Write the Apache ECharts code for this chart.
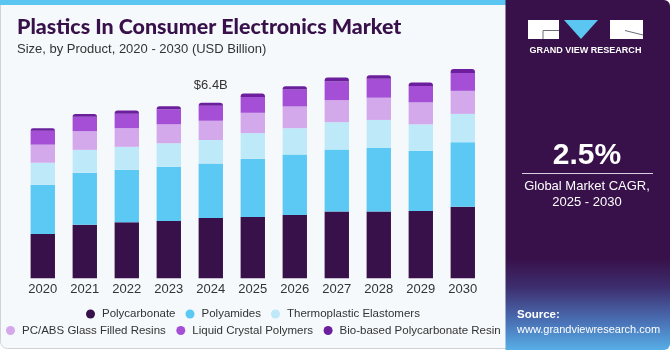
<!DOCTYPE html>
<html>
<head>
<meta charset="utf-8">
<script src="https://cdn.jsdelivr.net/npm/echarts@6/dist/echarts.min.js"></script>
<style>
  html, body { margin: 0; padding: 0; background: #ffffff; }
  #chart { width: 670px; height: 350px; }
</style>
</head>
<body>
<div id="chart"></div>
<script>
// values in USD billion
const years = ['2020', '2021', '2022', '2023', '2024', '2025', '2026', '2027', '2028', '2029', '2030'];
const polycarbonate = [1.61, 1.95, 2.04, 2.09, 2.20, 2.23, 2.31, 2.43, 2.43, 2.45, 2.61];
const polyamides = [1.80, 1.90, 1.91, 1.97, 1.98, 2.12, 2.20, 2.26, 2.32, 2.20, 2.35];
const thermoElastomers = [0.80, 0.83, 0.84, 0.86, 0.86, 0.94, 0.96, 1.00, 1.02, 0.96, 1.03];
const pcAbsResins = [0.66, 0.68, 0.68, 0.69, 0.70, 0.74, 0.79, 0.80, 0.81, 0.80, 0.84];
const liquidCrystal = [0.51, 0.53, 0.53, 0.55, 0.55, 0.58, 0.62, 0.68, 0.69, 0.60, 0.65];
const bioPolycarbonate = [0.09, 0.10, 0.11, 0.11, 0.11, 0.12, 0.12, 0.15, 0.13, 0.12, 0.15];
const highlightYear = '2024';
const highlightLabel = '$6.4B';

const chart = echarts.init(document.getElementById('chart'));

function seg(name, data, color, extra) {
  return Object.assign({
    name: name,
    type: 'bar',
    stack: 'total',
    barWidth: '58%',
    data: data,
    itemStyle: { color: color },
    emphasis: { disabled: true }
  }, extra || {});
}

const font = '"Liberation Sans", Arial, sans-serif';
const legendText = { color: '#333333', fontSize: 11.5, fontFamily: font, padding: [0, 0, 0, 2] };

const options = {
  animation: false,
  textStyle: { fontFamily: font },
  grid: { left: 21.8, right: 186.2, top: 31.3, bottom: 71.7 },
  xAxis: {
    type: 'category',
    data: years,
    axisLine: { show: false },
    axisTick: { show: false },
    axisLabel: { color: '#333333', fontSize: 13, margin: 5, fontFamily: font }
  },
  yAxis: {
    type: 'value',
    min: 0,
    max: 9,
    show: false,
    splitLine: { show: false }
  },
  legend: [
    {
      left: 86, top: 308, padding: 0,
      icon: 'circle', itemWidth: 9, itemHeight: 9, itemGap: 10,
      textStyle: legendText,
      data: ['Polycarbonate', 'Polyamides', 'Thermoplastic Elastomers']
    },
    {
      left: 6, top: 324.5, padding: 0,
      icon: 'circle', itemWidth: 9, itemHeight: 9, itemGap: 10.5,
      textStyle: legendText,
      data: ['PC/ABS Glass Filled Resins', 'Liquid Crystal Polymers', 'Bio-based Polycarbonate Resin']
    }
  ],
  graphic: [
    // left panel background + frame
    { type: 'rect', z: -10, shape: { x: 0.5, y: 0.5, width: 510, height: 348, r: [0, 0, 0, 7] },
      style: { fill: '#f5f9fc', stroke: '#cfd3d6', lineWidth: 1 } },
    { type: 'rect', z: -9, shape: { x: 0, y: 0, width: 506, height: 5 }, style: { fill: '#5cc6f2' } },
    // right panel (sits over the legend's overflow)
    { type: 'rect', z: 20, shape: { x: 505.5, y: 0, width: 164.5, height: 350, r: [0, 6, 6, 0] },
      style: {
        fill: new echarts.graphic.LinearGradient(0, 0, 0, 1, [
          { offset: 0, color: '#38114a' },
          { offset: 0.74, color: '#38114a' },
          { offset: 0.82, color: '#3d2d6e' },
          { offset: 0.92, color: '#4a72b6' },
          { offset: 1, color: '#57aee6' }
        ])
      } },
    // logo
    { type: 'rect', z: 21, shape: { x: 528, y: 20, width: 31, height: 19 }, style: { fill: '#ffffff' } },
    { type: 'polyline', z: 22, shape: { points: [[559, 30.5], [543, 30.5], [543, 39]] }, style: { stroke: '#6b6b7a', lineWidth: 1, fill: null } },
    { type: 'polygon', z: 21, shape: { points: [[564, 20], [598, 20], [581, 39]] }, style: { fill: '#5cc6f2' } },
    { type: 'rect', z: 21, shape: { x: 610, y: 20, width: 33, height: 19 }, style: { fill: '#ffffff' } },
    { type: 'line', z: 22, shape: { x1: 625, y1: 30.5, x2: 643, y2: 35 }, style: { stroke: '#6b6b7a', lineWidth: 1 } },
    { type: 'text', z: 21, x: 585.5, y: 51, scaleX: 1.05, originX: 0, originY: 0,
      style: { text: 'GRAND VIEW RESEARCH', fill: '#ffffff', font: 'bold 8.6px "Liberation Sans", Arial, sans-serif', align: 'center', verticalAlign: 'middle' } },
    // CAGR
    { type: 'text', z: 21, x: 587, y: 156, style: { text: '2.5%', fill: '#ffffff', font: 'bold 30px "Liberation Sans", Arial, sans-serif', align: 'center', verticalAlign: 'middle' } },
    { type: 'line', z: 21, shape: { x1: 522, y1: 173.5, x2: 653, y2: 173.5 }, style: { stroke: '#d8d0de', lineWidth: 1 } },
    { type: 'text', z: 21, x: 587, y: 186, style: { text: 'Global Market CAGR,', fill: '#ffffff', font: '13px "Liberation Sans", Arial, sans-serif', align: 'center', verticalAlign: 'middle' } },
    { type: 'text', z: 21, x: 587, y: 202, style: { text: '2025 - 2030', fill: '#ffffff', font: '13px "Liberation Sans", Arial, sans-serif', align: 'center', verticalAlign: 'middle' } },
    // source
    { type: 'text', z: 21, x: 517, y: 315, style: { text: 'Source:', fill: '#ffffff', font: 'bold 11.5px "Liberation Sans", Arial, sans-serif', verticalAlign: 'middle' } },
    { type: 'text', z: 21, x: 517, y: 330, style: { text: 'www.grandviewresearch.com', fill: '#ffffff', font: '11px "Liberation Sans", Arial, sans-serif', verticalAlign: 'middle' } },
    // title
    { type: 'text', x: 17, y: 28, scaleX: 1.07, originX: 0, originY: 0,
      style: { text: 'Plastics In Consumer Electronics Market', fill: '#38114a', font: '900 20px Lato, "Liberation Sans", sans-serif', verticalAlign: 'middle' } },
    { type: 'text', x: 17, y: 49, style: { text: 'Size, by Product, 2020 - 2030 (USD Billion)', fill: '#333333', font: '13px "Liberation Sans", Arial, sans-serif', verticalAlign: 'middle' } }
  ],
  series: [
    seg('Polycarbonate', polycarbonate, '#38114a'),
    seg('Polyamides', polyamides, '#5cc9f5'),
    seg('Thermoplastic Elastomers', thermoElastomers, '#bde9f9'),
    seg('PC/ABS Glass Filled Resins', pcAbsResins, '#d4a9ec'),
    seg('Liquid Crystal Polymers', liquidCrystal, '#a44fd6'),
    seg('Bio-based Polycarbonate Resin', bioPolycarbonate, '#6b1f9c', {
      itemStyle: { color: '#6b1f9c', borderRadius: [3, 3, 0, 0] },
      label: {
        show: true,
        position: 'top',
        distance: 11,
        color: '#333333',
        fontSize: 13,
        fontFamily: font,
        formatter: function (p) { return p.name === highlightYear ? highlightLabel : ''; }
      }
    })
  ]
};

chart.setOption(options);
</script>
</body>
</html>
